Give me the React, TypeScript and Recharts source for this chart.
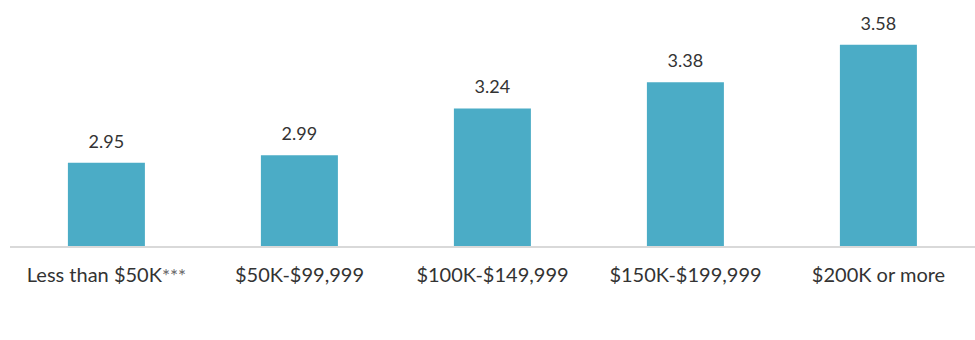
import React from "react";
import { BarChart, Bar, XAxis, YAxis, LabelList } from "recharts";

const categories = ["Less than $50K***", "$50K-$99,999", "$100K-$149,999", "$150K-$199,999", "$200K or more"];
const values = [2.95, 2.99, 3.24, 3.38, 3.58];

const data = categories.map((c, i) => ({ name: c, value: values[i] }));

const FONT = "Lato, 'Open Sans', sans-serif";

const CategoryTick = (props: any) => {
  const { x, y, payload } = props;
  const label: string = payload.value;
  const m = label.match(/^(.*?)(\*+)$/);
  const main = m ? m[1] : label;
  const stars = m ? m[2] : "";
  return (
    <text
      x={x}
      y={y + 33}
      textAnchor="middle"
      fill="#333333"
      fontSize={20}
      fontFamily={FONT}
    >
      <tspan>{main}</tspan>
      {stars ? (
        <tspan fontSize={19} dy={1} fill="#666666">
          {stars}
        </tspan>
      ) : null}
    </text>
  );
};

export default function App() {
  return (
    <div style={{ position: "absolute", left: 0, top: 0, width: 975, height: 340, background: "#fff" }}>
      <BarChart
        width={975}
        height={340}
        data={data}
        margin={{ top: 41, right: 0, left: 10, bottom: 63 }}
        barCategoryGap="30%"
      >
        <XAxis
          dataKey="name"
          height={30}
          axisLine={{ stroke: "#d9d9d9", strokeWidth: 2 }}
          tickLine={false}
          tickSize={0}
          interval={0}
          tick={<CategoryTick />}
        />
        <YAxis hide domain={[2.5, 3.6]} allowDataOverflow />
        <Bar dataKey="value" fill="#4bacc6" isAnimationActive={false}>
          <LabelList
            dataKey="value"
            position="top"
            offset={15}
            formatter={(v: number) => v.toFixed(2)}
            style={{ fill: "#333333", fontSize: 18, fontFamily: FONT }}
          />
        </Bar>
      </BarChart>
    </div>
  );
}
